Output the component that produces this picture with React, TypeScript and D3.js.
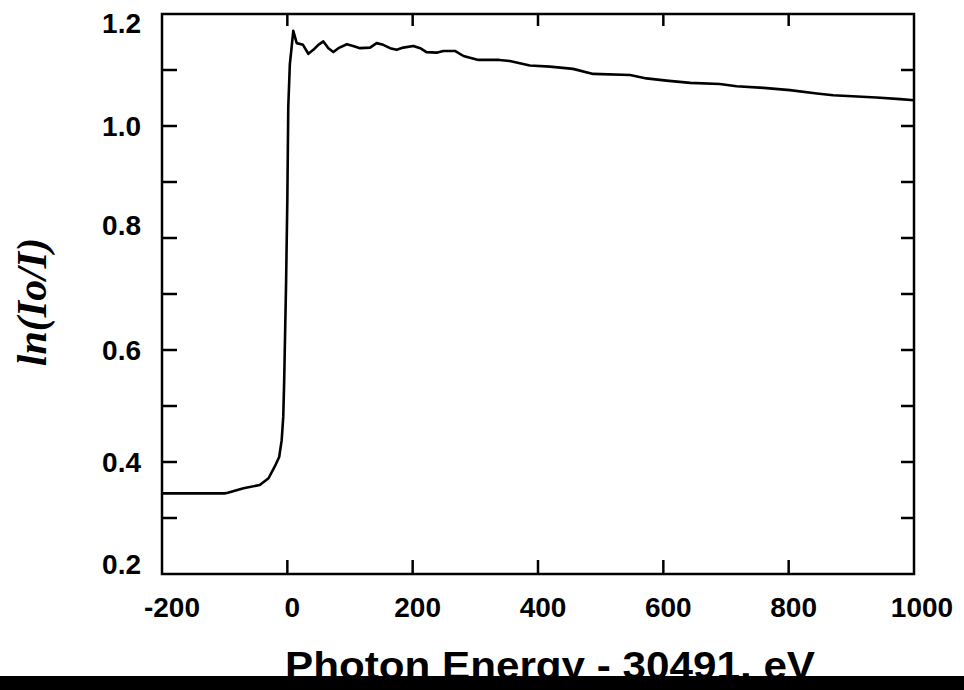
import React from "react";
import * as d3 from "d3";

const energy = [-200, -150, -100, -95, -70, -44, -30, -20, -13, -9, -6.5, -5, -2, 0, 1.5, 4, 7, 9.5, 15, 25, 33.5, 41.5, 49.5, 57.5, 65.5, 73.5, 81.5, 95, 105, 116, 132, 142.5, 153, 164, 174.5, 185, 201, 212, 222, 238, 249, 267.5, 281, 305, 338, 355, 387, 419, 456, 488, 547, 573, 605, 643, 690, 717, 760, 802, 845, 871, 940, 978, 1000];
const absorbance = [0.344, 0.344, 0.344, 0.345, 0.353, 0.359, 0.371, 0.392, 0.409, 0.439, 0.481, 0.546, 0.72, 0.868, 1.034, 1.11, 1.142, 1.17, 1.148, 1.145, 1.129, 1.136, 1.145, 1.151, 1.139, 1.132, 1.139, 1.146, 1.143, 1.139, 1.14, 1.148, 1.145, 1.139, 1.136, 1.14, 1.143, 1.139, 1.132, 1.131, 1.134, 1.134, 1.125, 1.118, 1.118, 1.116, 1.108, 1.106, 1.102, 1.093, 1.091, 1.085, 1.081, 1.077, 1.075, 1.071, 1.068, 1.064, 1.058, 1.055, 1.051, 1.048, 1.046];

const xTicks = [-200, 0, 200, 400, 600, 800, 1000];
const xTickLabels = ["-200", "0", "200", "400", "600", "800", "1000"];
const yTicks = [0.2, 0.4, 0.6, 0.8, 1.0, 1.2];
const yTickLabels = ["0.2", "0.4", "0.6", "0.8", "1.0", "1.2"];
const yMinorTicks = [0.3, 0.5, 0.7, 0.9, 1.1];
const xTitle = "Photon Energy - 30491. eV";
const yTitle = "ln(Io/I)";

export default function App() {
  const W = 964, H = 690;
  const left = 162, right = 914, top = 14, bottom = 574;
  const x = d3.scaleLinear().domain([-200, 1000]).range([left, right]);
  const y = d3.scaleLinear().domain([0.2, 1.2]).range([bottom, top]);
  const pts = energy.map((e, i) => [e, absorbance[i]] as [number, number]);
  const line = d3.line<[number, number]>().x(d => x(d[0])).y(d => y(d[1]));
  const allY = [...yTicks, ...yMinorTicks];
  const sans = "'Liberation Sans', Arial, sans-serif";
  const yLabelPos = (t: number) => {
    let p = y(t);
    if (t >= 1.2) p += 9;
    if (t <= 0.2) p -= 10;
    if (Math.abs(t - 0.8) < 1e-6) p -= 13;
    return p;
  };
  const xLabelPos = (t: number) => x(t) + (t === -200 ? 10 : t === 1000 ? 8 : 5);
  return (
    <svg width={W} height={H} style={{ position: "absolute", left: 0, top: 0, background: "#fff" }}>
      <rect x={0} y={0} width={W} height={H} fill="#fff" />
      <rect x={left} y={top} width={right - left} height={bottom - top} fill="none" stroke="#000" strokeWidth={2.5} />
      {xTicks.filter(t => t > -200 && t < 1000).map(t => (
        <g key={"xt" + t}>
          <line x1={x(t)} x2={x(t)} y1={bottom} y2={bottom - 14} stroke="#000" strokeWidth={2.5} />
          <line x1={x(t)} x2={x(t)} y1={top} y2={top + 12} stroke="#000" strokeWidth={2.5} />
        </g>
      ))}
      {allY.filter(t => t > 0.2 && t < 1.2).map(t => (
        <g key={"yt" + t}>
          <line x1={left} x2={left + 15} y1={y(t)} y2={y(t)} stroke="#000" strokeWidth={2.5} />
          <line x1={right} x2={right - 13} y1={y(t)} y2={y(t)} stroke="#000" strokeWidth={2.5} />
        </g>
      ))}
      <path d={line(pts) || ""} fill="none" stroke="#000" strokeWidth={2.6} strokeLinejoin="round" />
      {yTicks.map((t, i) => (
        <text key={"yl" + t} x={141} y={yLabelPos(t)} dy="0.36em" textAnchor="end"
          fontFamily={sans} fontWeight="bold" fontSize={28}>{yTickLabels[i]}</text>
      ))}
      {xTicks.map((t, i) => (
        <text key={"xl" + t} x={xLabelPos(t)} y={607} dy="0.36em" textAnchor="middle"
          fontFamily={sans} fontWeight="bold" fontSize={28}>{xTickLabels[i]}</text>
      ))}
      <text x={285} y={679} textAnchor="start" fontFamily={sans} fontWeight="bold" fontSize={38}
        textLength={530} lengthAdjust="spacingAndGlyphs">{xTitle}</text>
      <text transform="translate(46,302) rotate(-90)" textAnchor="middle" fontFamily="'Liberation Serif', 'Times New Roman', serif"
        fontStyle="italic" fontWeight="bold" fontSize={42}>{yTitle}</text>
      <rect x={0} y={676} width={W} height={H - 676} fill="#000" />
    </svg>
  );
}
